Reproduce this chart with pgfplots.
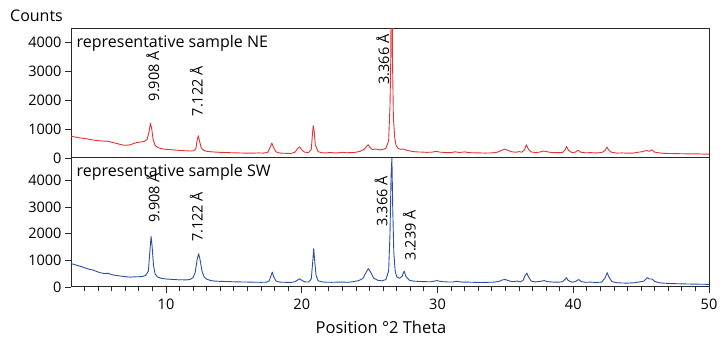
\documentclass[border=0pt]{standalone}
\usepackage{pgfplots}
\pgfplotsset{compat=1.18}
\usepackage{fontspec}
\setmainfont{Open Sans}
\definecolor{nered}{RGB}{232,50,50}
\definecolor{swblue}{RGB}{44,78,168}
\definecolor{frame}{RGB}{40,40,40}

\pgfplotstableread{
x y
3.0 760
3.2 735
3.4 722
3.6 700
3.8 690
4.0 672
4.2 662
4.4 640
4.6 628
4.8 612
5.0 600
5.2 592
5.4 584
5.6 588
5.8 570
6.0 548
6.2 522
6.4 502
6.6 474
6.8 452
7.0 442
7.2 446
7.4 462
7.6 500
7.8 530
8.0 546
8.2 560
8.4 575
8.6 640
8.75 900
8.85 1210
8.95 1000
9.05 640
9.2 430
9.4 362
9.6 330
9.8 312
10.0 300
10.3 292
10.6 276
10.9 266
11.2 256
11.5 250
11.8 242
12.05 252
12.2 330
12.3 640
12.38 770
12.46 600
12.6 340
12.8 262
13.0 232
13.3 216
13.6 206
14.0 196
14.4 190
14.8 182
15.2 178
15.6 172
16.0 170
16.4 168
16.8 176
17.2 170
17.5 200
17.7 400
17.8 520
17.9 380
18.1 212
18.4 170
18.8 162
19.2 156
19.5 200
19.75 360
19.85 380
20.0 282
20.2 202
20.5 190
20.7 300
20.8 900
20.85 1120
20.92 900
21.0 450
21.2 222
21.5 182
21.8 176
22.1 192
22.4 176
22.7 178
23.0 200
23.3 182
23.6 186
24.0 200
24.3 232
24.6 300
24.8 420
24.9 460
25.0 380
25.2 292
25.4 312
25.6 300
25.8 282
26.0 302
26.2 332
26.4 600
26.5 1800
26.56 3500
26.62 9000
26.68 3500
26.75 1400
26.85 700
26.95 430
27.1 330
27.3 300
27.5 312
27.7 270
27.9 250
28.1 232
28.4 212
28.8 206
29.2 196
29.6 202
29.9 232
30.2 202
30.6 190
31.0 186
31.3 216
31.6 190
32.0 212
32.3 186
32.7 180
33.0 178
33.5 170
34.0 176
34.4 200
34.7 260
34.95 310
35.2 260
35.5 212
35.8 200
36.0 222
36.2 200
36.4 280
36.55 460
36.7 300
36.9 212
37.2 190
37.5 202
37.8 242
38.0 222
38.4 190
38.8 186
39.2 190
39.4 280
39.5 400
39.65 262
39.9 190
40.15 202
40.35 270
40.55 200
40.9 180
41.3 186
41.7 176
42.1 190
42.35 262
42.48 380
42.6 280
42.8 202
43.2 170
43.6 176
44.0 166
44.4 170
44.8 200
45.1 222
45.4 262
45.6 232
45.8 282
46.0 202
46.3 180
46.7 160
47.2 156
47.7 150
48.2 146
48.7 140
49.2 142
49.6 136
50.0 135
}\tableNE

\pgfplotstableread{
x y
3.0 880
3.2 852
3.4 822
3.6 790
3.8 762
4.0 722
4.2 690
4.4 662
4.6 640
4.8 602
5.0 562
5.2 532
5.4 512
5.6 502
5.7 520
5.9 482
6.2 442
6.5 422
6.8 402
7.1 382
7.4 372
7.7 382
8.0 386
8.3 400
8.5 432
8.7 600
8.82 1400
8.9 1900
8.98 1500
9.08 800
9.2 480
9.4 372
9.7 322
10.0 302
10.3 290
10.6 282
10.9 270
11.2 272
11.5 266
11.8 290
12.0 360
12.15 550
12.3 1050
12.4 1250
12.5 1050
12.65 600
12.8 380
13.0 292
13.3 242
13.6 222
14.0 212
14.5 206
15.0 196
15.5 190
16.0 186
16.5 180
17.0 176
17.4 182
17.6 230
17.75 450
17.83 560
17.92 400
18.1 222
18.4 182
18.8 176
19.2 170
19.5 200
19.75 280
19.85 310
20.0 252
20.2 192
20.5 186
20.7 300
20.8 900
20.88 1440
20.95 1000
21.05 450
21.2 232
21.5 192
21.8 180
22.2 176
22.6 182
23.0 186
23.4 176
23.8 200
24.2 242
24.5 320
24.75 560
24.9 690
25.05 580
25.3 332
25.6 252
25.9 232
26.2 280
26.4 600
26.5 2000
26.58 4200
26.64 4850
26.7 3000
26.78 1300
26.88 600
27.0 380
27.2 330
27.4 400
27.5 560
27.56 590
27.65 420
27.9 262
28.2 222
28.6 210
29.0 202
29.5 196
29.95 240
30.3 202
30.7 190
31.1 186
31.4 212
31.8 186
32.2 182
32.7 176
33.2 170
33.7 176
34.2 182
34.6 222
34.8 270
35.0 280
35.2 242
35.5 202
35.9 222
36.1 192
36.3 242
36.45 430
36.58 525
36.7 380
36.9 222
37.2 192
37.6 212
37.85 242
38.1 202
38.5 186
38.9 180
39.2 196
39.4 290
39.5 350
39.62 250
39.9 182
40.15 202
40.4 280
40.6 202
40.9 176
41.3 182
41.7 170
42.1 186
42.35 350
42.5 540
42.62 380
42.85 202
43.2 162
43.6 150
44.0 146
44.5 160
44.9 192
45.2 222
45.45 350
45.6 300
45.8 300
46.0 212
46.3 162
46.7 142
47.2 130
47.7 122
48.2 116
48.7 110
49.2 106
49.6 102
50.0 100
}\tableSW

\pgfplotsset{
  xrdpanel/.style={
    scale only axis, width=638pt, height=129pt,
    xmin=3, xmax=50, ymin=0,
    axis line style={frame, line width=1pt},
    tick style={frame, line width=0.8pt},
    ytick={0,1000,2000,3000,4000},
    ytick pos=left,
    tick align=outside,
    major tick length=6pt,
    minor tick length=4pt,
    tick label style={font=\fontsize{14.5}{16}\selectfont, text=black},
    /pgf/number format/assume math mode=true,
    /pgf/number format/1000 sep={},
    scaled y ticks=false,
    every axis plot/.append style={line width=0.9pt, line join=round},
  },
}
\tikzset{
  lbl/.style={rotate=90, anchor=west, inner sep=0pt, font=\fontsize{14.5}{16}\selectfont},
  ttl/.style={anchor=north west, inner sep=0pt, font=\fontsize{16}{18}\selectfont},
}

\begin{document}
\begin{tikzpicture}
\useasboundingbox (0,0) rectangle (726pt,-339pt);

% upper panel: sample NE
\begin{axis}[xrdpanel, anchor=north west, at={(71pt,-29pt)},
  ymax=4470, xtick=\empty]
  \addplot[nered, no marks] table[x=x, y=y] {\tableNE};
  \node[ttl] at (rel axis cs:0,1) [xshift=5.5pt, yshift=-6pt] {representative sample NE};
  \node[lbl] at (axis cs:9.03,1960) {9.908 Å};
  \node[lbl] at (axis cs:12.24,1440) {7.122 Å};
  \node[lbl] at (axis cs:25.97,2540) {3.366 Å};
\end{axis}

% lower panel: sample SW
\begin{axis}[xrdpanel, anchor=north west, at={(71pt,-158pt)},
  ymax=4850, xtick={10,20,30,40,50},
  minor xtick={4,5,6,7,8,9,11,12,13,14,15,16,17,18,19,21,22,23,24,25,26,27,28,29,31,32,33,34,35,36,37,38,39,41,42,43,44,45,46,47,48,49},
  xtick pos=bottom, xticklabel style={yshift=-2pt},
  x tick style={line width=0.9pt}]
  \addplot[swblue, no marks] table[x=x, y=y] {\tableSW};
  \node[ttl] at (rel axis cs:0,1) [xshift=5.5pt, yshift=-6pt] {representative sample SW};
  \node[lbl] at (axis cs:9.05,2400) {9.908 Å};
  \node[lbl] at (axis cs:12.24,1690) {7.122 Å};
  \node[lbl] at (axis cs:25.85,2270) {3.366 Å};
  \node[lbl] at (axis cs:27.93,1000) {3.239 Å};
\end{axis}

\node[font=\fontsize{16}{18}\selectfont] at (36.5pt,-16pt) {Counts};
\node[font=\fontsize{16.5}{18}\selectfont] at (381pt,-327pt) {Position °2 Theta};
\end{tikzpicture}
\end{document}
